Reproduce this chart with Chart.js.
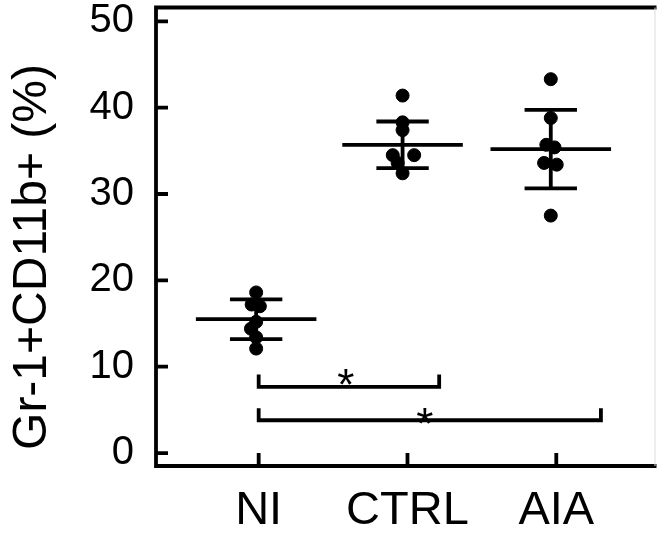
<!DOCTYPE html>
<html>
<head>
<meta charset="utf-8">
<script src="https://cdn.jsdelivr.net/npm/chart.js@4/dist/chart.umd.min.js"></script>
<style>
  body { margin: 0; background: #fff; }
</style>
</head>
<body>
<canvas id="scatterChart" width="662" height="535"></canvas>
<script>
// groups and tick labels
const groups = ['NI', 'CTRL', 'AIA'];
const groupX = [0.983, 1.967, 2.963];
const yTicks = [0, 10, 20, 30, 40, 50];

// individual points (value, small horizontal jitter)
const niValues = [18.6, 17.2, 17.0, 15.2, 14.4, 13.4, 12.1];
const niJitter = [0, -0.03, 0.025, 0, -0.035, 0, 0];
const ctrlValues = [41.4, 38.3, 37.4, 34.5, 34.5, 33.6, 32.4];
const ctrlJitter = [0, 0, 0, -0.066, 0.078, -0.033, 0];
const aiaValues = [43.3, 38.8, 35.7, 35.4, 33.6, 33.4, 27.5];
const aiaJitter = [0, 0, -0.03, 0.025, -0.045, 0.04, 0];

// mean and SD per group
const means = [15.5, 35.7, 35.2];
const sds = [2.3, 2.7, 4.55];

// significance brackets: from group, to x, base y, top y
const bracketFrom = [1.0, 1.0];
const bracketTo = [2.213, 3.30];
const bracketBase = [7.66, 3.8];
const bracketTop = [9.1, 5.2];
const starX = [1.585, 2.116];
const starY = [9.25, 4.74];

const FONT = "'Liberation Sans', Arial, sans-serif";
const meanHalf = 0.405;
const capHalf = 0.176;

function lineSet(points) {
    return {
        type: 'scatter',
        data: points,
        showLine: true,
        borderColor: '#000',
        borderWidth: 3.8,
        pointRadius: 0,
        fill: false
    };
}

const datasets = [];

[[niValues, niJitter], [ctrlValues, ctrlJitter], [aiaValues, aiaJitter]].forEach((g, i) => {
    datasets.push({
        type: 'scatter',
        data: g[0].map((v, k) => ({ x: groupX[i] + g[1][k], y: v })),
        backgroundColor: '#000',
        borderColor: '#000',
        pointRadius: 6.5,
        pointHoverRadius: 6.5
    });
});

means.forEach((m, i) => {
    const cx = groupX[i];
    datasets.push(lineSet([{ x: cx - meanHalf, y: m }, { x: cx + meanHalf, y: m }]));
    datasets.push(lineSet([{ x: cx, y: m - sds[i] }, { x: cx, y: m + sds[i] }]));
    datasets.push(lineSet([{ x: cx - capHalf, y: m + sds[i] }, { x: cx + capHalf, y: m + sds[i] }]));
    datasets.push(lineSet([{ x: cx - capHalf, y: m - sds[i] }, { x: cx + capHalf, y: m - sds[i] }]));
});

bracketFrom.forEach((x0, i) => {
    datasets.push(lineSet([
        { x: x0, y: bracketTop[i] },
        { x: x0, y: bracketBase[i] },
        { x: bracketTo[i], y: bracketBase[i] },
        { x: bracketTo[i], y: bracketTop[i] }
    ]));
});

// frame with inward ticks, asterisks and the rotated y title
const framePlugin = {
    id: 'frame',
    afterDraw(chart) {
        const ctx = chart.ctx;
        const a = chart.chartArea;
        const xs = chart.scales.x;
        const ys = chart.scales.y;
        ctx.save();
        ctx.strokeStyle = '#000';
        ctx.lineWidth = 3.8;
        ctx.beginPath();
        ctx.moveTo(a.right + 2, a.top);
        ctx.lineTo(a.left, a.top);
        ctx.lineTo(a.left, a.bottom);
        ctx.lineTo(a.right + 2, a.bottom);
        yTicks.forEach(v => {
            const py = ys.getPixelForValue(v);
            ctx.moveTo(a.left, py);
            ctx.lineTo(a.left + 12, py);
        });
        [1, 2, 3].forEach(v => {
            const px = xs.getPixelForValue(v);
            ctx.moveTo(px, a.bottom);
            ctx.lineTo(px, a.bottom - 13);
        });
        ctx.stroke();

        ctx.strokeStyle = '#ddd';
        ctx.lineWidth = 1;
        ctx.beginPath();
        ctx.moveTo(a.right + 0.5, a.top);
        ctx.lineTo(a.right + 0.5, a.bottom);
        ctx.stroke();

        ctx.fillStyle = '#000';
        ctx.font = '44px ' + FONT;
        ctx.textAlign = 'center';
        ctx.textBaseline = 'alphabetic';
        starX.forEach((x, i) => {
            ctx.fillText('*', xs.getPixelForValue(x), ys.getPixelForValue(starY[i]) + 27);
        });

        ctx.translate(33, 257);
        ctx.rotate(-Math.PI / 2);
        ctx.font = '48px ' + FONT;
        ctx.textBaseline = 'middle';
        ctx.fillText('Gr-1+CD11b+ (%)', 0, 0);
        ctx.restore();
    }
};

const ctx = document.getElementById('scatterChart').getContext('2d');
new Chart(ctx, {
    type: 'scatter',
    data: { datasets: datasets },
    options: {
        responsive: false,
        animation: false,
        layout: { padding: { left: 0, top: 7, right: 1, bottom: 0 } },
        plugins: {
            legend: { display: false },
            tooltip: { enabled: false }
        },
        scales: {
            x: {
                type: 'linear',
                min: 0.31,
                max: 3.66,
                grid: { display: false, drawTicks: false },
                border: { display: false },
                afterBuildTicks: scale => { scale.ticks = [1, 2, 3].map(v => ({ value: v })); },
                afterFit: scale => {
                    scale.height = 69;
                    scale.paddingLeft = 0;
                    scale.paddingRight = 0;
                },
                ticks: {
                    color: '#000',
                    padding: 17,
                    maxRotation: 0,
                    font: { family: FONT, size: 47 },
                    callback: value => groups[value - 1]
                }
            },
            y: {
                min: -1.5,
                max: 51.6,
                grid: { display: false, drawTicks: false },
                border: { display: false },
                afterBuildTicks: scale => { scale.ticks = yTicks.map(v => ({ value: v })); },
                afterFit: scale => {
                    scale.width = 156;
                    scale.paddingTop = 0;
                    scale.paddingBottom = 0;
                },
                ticks: {
                    color: '#000',
                    padding: 22,
                    font: { family: FONT, size: 40 }
                }
            }
        }
    },
    plugins: [framePlugin]
});
</script>
</body>
</html>
